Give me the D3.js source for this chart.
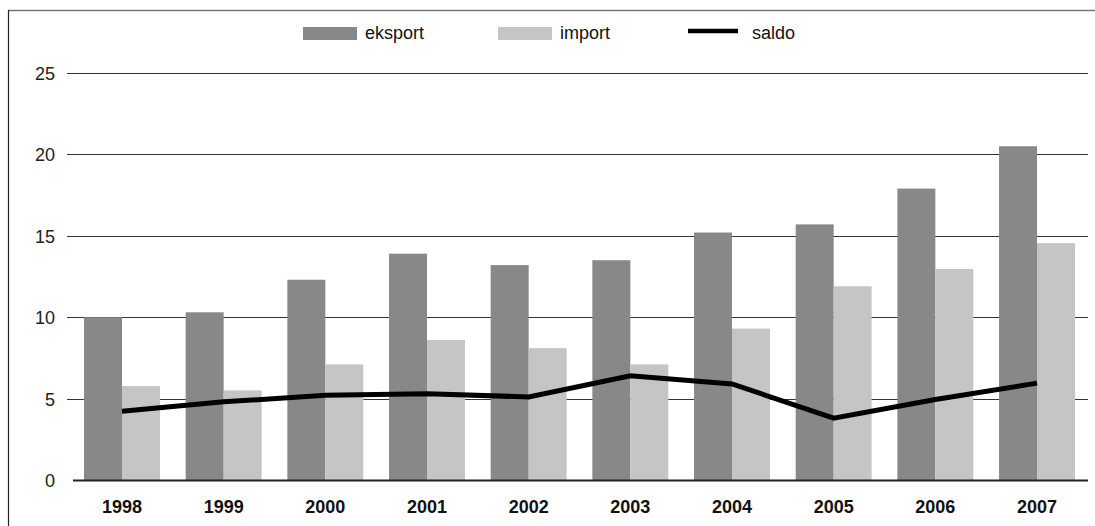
<!DOCTYPE html>
<html>
<head>
<meta charset="utf-8">
<script src="https://cdnjs.cloudflare.com/ajax/libs/d3/7.8.5/d3.min.js"></script>
<style>
  body { margin: 0; background: #fff; }
  svg { display: block; font-family: "Liberation Sans", Arial, sans-serif; }
</style>
</head>
<body>
<svg id="chart"></svg>
<script>
var years = ["1998", "1999", "2000", "2001", "2002", "2003", "2004", "2005", "2006", "2007"];
var eksport = [10.0, 10.3, 12.3, 13.9, 13.2, 13.5, 15.2, 15.7, 17.9, 20.5];
var importVals = [5.77, 5.5, 7.1, 8.6, 8.1, 7.1, 9.3, 11.9, 12.96, 14.55];
var saldo = [4.23, 4.8, 5.2, 5.3, 5.1, 6.4, 5.9, 3.8, 4.94, 5.95];
var yTicks = [0, 5, 10, 15, 20, 25];
var legendLabels = ["eksport", "import", "saldo"];

var width = 1095,
    height = 526;
var svg = d3.select("#chart").attr("width", width).attr("height", height);

var x = d3.scaleBand().domain(years).range([71, 1088]).paddingInner(0.253).paddingOuter(0.128);
var y = d3.scaleLinear().domain([0, 25]).range([480, 73]);

// frame
svg.append("line").attr("x1", 8).attr("x2", 1095).attr("y1", 10.5).attr("y2", 10.5)
  .attr("stroke", "#777").attr("stroke-width", 1.5);
svg.append("line").attr("x1", 8.5).attr("x2", 8.5).attr("y1", 10).attr("y2", 526)
  .attr("stroke", "#222").attr("stroke-width", 1.2);

// grid lines
svg.selectAll(".grid").data(yTicks.filter(function(d) { return d > 0; })).enter()
  .append("line").attr("class", "grid")
  .attr("x1", 67).attr("x2", 1088)
  .attr("y1", function(d) { return Math.round(y(d)) + 0.5; })
  .attr("y2", function(d) { return Math.round(y(d)) + 0.5; })
  .attr("stroke", "#333").attr("stroke-width", 1);

svg.selectAll(".ylab").data(yTicks).enter()
  .append("text").attr("class", "ylab")
  .attr("x", 55).attr("y", function(d) { return y(d) + 7; })
  .attr("text-anchor", "end").attr("font-size", 18).attr("fill", "#222")
  .text(function(d) { return d; });

var sub = d3.scaleBand().domain(["eksport", "import"]).range([0, x.bandwidth()]);
var color = { eksport: "#87888a", "import": "#c4c5c7" };

var groups = svg.selectAll(".year").data(years).enter()
  .append("g").attr("class", "year")
  .attr("transform", function(d) { return "translate(" + x(d) + ",0)"; });

groups.append("rect")
  .attr("x", sub("eksport")).attr("width", sub.bandwidth())
  .attr("y", function(d, i) { return y(eksport[i]); })
  .attr("height", function(d, i) { return y(0) - y(eksport[i]); })
  .attr("fill", color.eksport);
groups.append("rect")
  .attr("x", sub("import")).attr("width", sub.bandwidth())
  .attr("y", function(d, i) { return y(importVals[i]); })
  .attr("height", function(d, i) { return y(0) - y(importVals[i]); })
  .attr("fill", color["import"]);

// zero line
svg.append("line").attr("x1", 73).attr("x2", 1088).attr("y1", y(0) + 0.5).attr("y2", y(0) + 0.5)
  .attr("stroke", "#222").attr("stroke-width", 2);

svg.selectAll(".xlab").data(years).enter()
  .append("text").attr("class", "xlab")
  .attr("x", function(d) { return x(d) + x.bandwidth() / 2; })
  .attr("y", 513)
  .attr("text-anchor", "middle").attr("font-size", 18).attr("font-weight", "bold").attr("fill", "#111")
  .text(function(d) { return d; });

var line = d3.line()
  .x(function(d, i) { return x(years[i]) + x.bandwidth() / 2; })
  .y(function(d) { return y(d); });
svg.append("path").datum(saldo).attr("d", line)
  .attr("fill", "none").attr("stroke", "#000").attr("stroke-width", 5);

// legend
var legendX = [303, 498, 688];
var legend = svg.selectAll(".leg").data(legendLabels).enter()
  .append("g").attr("class", "leg")
  .attr("transform", function(d, i) { return "translate(" + legendX[i] + ",0)"; });
legend.each(function(d, i) {
  var g = d3.select(this);
  if (i < 2) {
    g.append("rect").attr("x", 0).attr("y", 27).attr("width", 54).attr("height", 13)
      .attr("fill", i === 0 ? color.eksport : color["import"]);
    g.append("text").attr("x", 62).attr("y", 39).attr("font-size", 18).attr("fill", "#111").text(d);
  } else {
    g.append("line").attr("x1", 0).attr("x2", 50).attr("y1", 31).attr("y2", 31)
      .attr("stroke", "#000").attr("stroke-width", 4.5);
    g.append("text").attr("x", 64).attr("y", 39).attr("font-size", 18).attr("fill", "#111").text(d);
  }
});
</script>
</body>
</html>
